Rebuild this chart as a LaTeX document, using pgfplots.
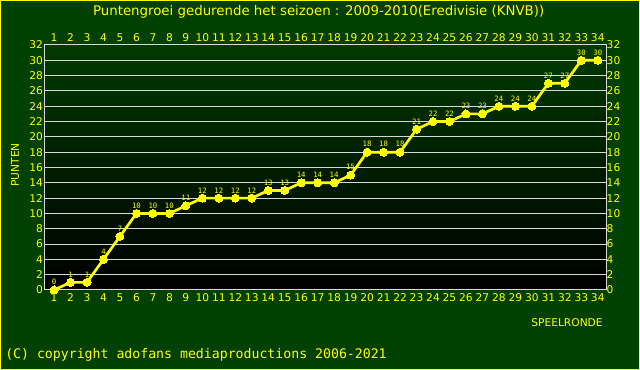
\documentclass[border=0pt]{standalone}
\usepackage{fontspec}
\setmainfont{DejaVu Sans}
\setmonofont{DejaVu Sans Mono}
\usepackage{pgfplots}
\pgfplotsset{compat=1.18}
\definecolor{bgg}{HTML}{004000}
\definecolor{topg}{HTML}{003A00}
\definecolor{yel}{HTML}{FFFF00}
\definecolor{gridc}{HTML}{D8D8D8}
\begin{document}
\begin{tikzpicture}[x=1pt,y=1pt]
\fill[bgg] (0,0) rectangle (480,277.5);
\draw[yel,line width=0.75pt] (0.375,0.375) rectangle (479.625,277.125);
\pgfplotsset{
  common/.style={
    at={(33.75pt,60pt)}, anchor=south west,
    scale only axis, width=420.75pt, height=183.75pt,
    xmin=0.45, xmax=34.5, ymin=0, ymax=32,
    xtick={1,...,34}, ytick={0,2,...,32},
    major tick length=0pt,
    tick label style={font=\fontsize{8}{9}\selectfont, text=yel},
    /pgf/number format/assume math mode=true,
    axis line style={gridc, line width=0.75pt},
  }
}
\begin{axis}[common,
    axis background/.style={top color=topg, bottom color=black},
    ymajorgrids, grid style={gridc, line width=0.75pt},
    xticklabel style={yshift=1pt},
    yticklabel style={xshift=2pt},
    clip=false,
    nodes near coords,
    every node near coord/.style={font=\ttfamily\fontsize{5.5}{6}\selectfont, text=yel, yshift=0.5pt},
  ]
\addplot[yel, line width=2pt, mark=*, mark size=3pt, mark options={fill=yel, draw=yel, line width=0pt}]
 coordinates {
 (1,0) (2,1) (3,1) (4,4) (5,7) (6,10) (7,10) (8,10) (9,11) (10,12)
 (11,12) (12,12) (13,12) (14,13) (15,13) (16,14) (17,14) (18,14) (19,15) (20,18)
 (21,18) (22,18) (23,21) (24,22) (25,22) (26,23) (27,23) (28,24) (29,24) (30,24)
 (31,27) (32,27) (33,30) (34,30)
 };
\end{axis}
\begin{axis}[common,
    xticklabel pos=right, yticklabel pos=right,
    axis line style={draw=none},
    xticklabel style={yshift=-1pt},
    yticklabel style={xshift=-3pt},
  ]
\addplot[draw=none] coordinates {(1,0)};
\end{axis}
\node[text=yel, font=\fontsize{10}{12}\selectfont] at (239,268.5) {Puntengroei gedurende het seizoen : 2009-2010(Eredivisie (KNVB))};
\node[text=yel, font=\fontsize{8}{9}\selectfont, rotate=90] at (11.25,153.75) {PUNTEN};
\node[text=yel, font=\fontsize{8}{9}\selectfont] at (425.25,35.25) {SPEELRONDE};
\node[text=yel, font=\ttfamily\fontsize{9.9}{11}\selectfont, anchor=west, inner sep=0pt] at (3.75,11.25) {(C) copyright adofans mediaproductions 2006-2021};
\end{tikzpicture}
\end{document}
